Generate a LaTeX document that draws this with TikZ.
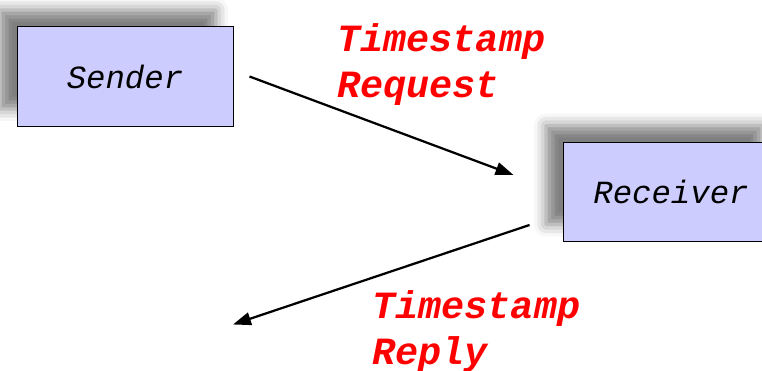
\documentclass[tikz,border=0pt]{standalone}
\usepackage{fontspec}
\setmonofont{Liberation Mono}
\usetikzlibrary{arrows.meta,shadows.blur}
\definecolor{boxcolor}{rgb}{0.8,0.8,1.0}

\begin{document}
\begin{tikzpicture}[
    party/.style={draw=black, line width=0.7pt, fill=boxcolor, inner sep=0pt,
      minimum width=5.4cm, minimum height=2.475cm,
      font=\fontsize{23}{27}\selectfont\ttfamily\itshape,
      blur shadow={shadow xshift=-0.425cm, shadow yshift=0.425cm,
        shadow blur radius=0.3cm, shadow opacity=50}},
    msg/.style={text=red, align=left, inner sep=0pt, anchor=base west,
      font=\fontsize{27.4}{33}\selectfont\ttfamily\bfseries\itshape},
    flow/.style={line width=1.6pt, -{Triangle[length=0.45cm,width=0.32cm]}}]
  \useasboundingbox (0,0) rectangle (19.05,9.275);
  \clip (0,0) rectangle (19.05,9.275);
  % the two parties
  \node[party] (sender) at (3.125,7.3625) {Sender};
  \node[party] (receiver) at (16.775,4.475) {Receiver};
  % messages (base = last line)
  \node[msg] (request) at (8.425,6.825) {Timestamp\\Request};
  \node[msg] (reply) at (9.3,0.15) {Timestamp\\Reply};
  \coordinate (reqstart) at ([xshift=0.4cm]sender.east);
  \coordinate (reqend) at ([xshift=-1.225cm,yshift=0.425cm]receiver.west);
  \coordinate (repstart) at ([xshift=-0.825cm,yshift=-0.825cm]receiver.west);
  \coordinate (repend) at ([xshift=2.7cm,yshift=-4.95cm]sender.south);
  \draw[flow] (reqstart) -- (reqend);
  \draw[flow] (repstart) -- (repend);
\end{tikzpicture}
\end{document}
